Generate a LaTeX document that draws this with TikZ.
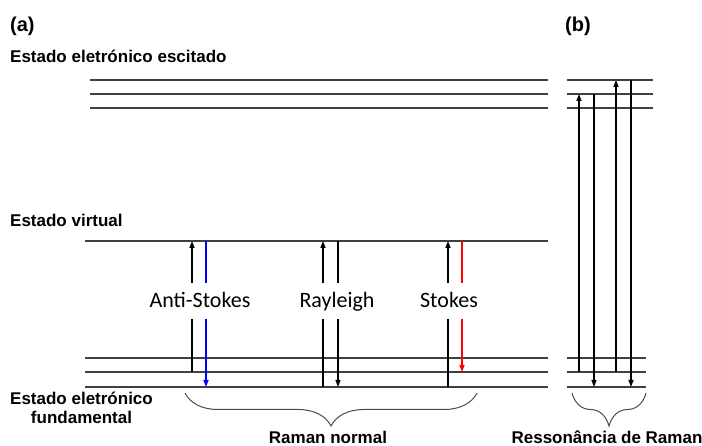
\documentclass[tikz,border=0pt]{standalone}
\usepackage{fontspec}
\setmainfont{Liberation Sans}
\newfontfamily\calibri{Carlito}
\usetikzlibrary{arrows.meta,decorations.pathreplacing}

\begin{document}
\begin{tikzpicture}[x=1pt,y=-1pt,
		level/.style={draw=black!75, line width=1.2pt},
		trans/.style={line width=1.4pt, -{Triangle[length=7pt,width=5pt]}},
		lbl/.style={font=\calibri\fontsize{22}{24}\selectfont, fill=white, inner xsep=1pt, inner ysep=0pt, text height=25pt, text depth=11pt, anchor=base},
		head/.style={font=\bfseries\fontsize{17}{19}\selectfont, inner sep=0pt},
		grp/.style={decorate, decoration={brace,mirror,amplitude=33pt}, draw=black!70, line width=1pt}]
	\useasboundingbox (0,0) rectangle (702,446);

	% excited electronic levels
	\foreach \y in {80,94,108} {
		\draw[level] (90,\y) -- (548,\y);
		\draw[level] (567,\y) -- (653,\y);
	}
	% virtual state
	\draw[level] (85,241) -- (548,241);
	% vibrational levels of the ground state
	\foreach \y in {358,372,387} {
		\draw[level] (85,\y) -- (548,\y);
		\draw[level] (567,\y) -- (646,\y);
	}

	% normal Raman transitions
	\draw[trans] (192,372) -- (192,241);
	\draw[trans, blue] (206,241) -- (206,387);
	\draw[trans] (323,387) -- (323,241);
	\draw[trans] (338,241) -- (338,387);
	\draw[trans] (448,387) -- (448,241);
	\draw[trans, red] (462,241) -- (462,372);

	\node[lbl] (antistokes) at (200,308) {Anti-Stokes};
	\node[lbl] (rayleigh) at (337,308) {Rayleigh};
	\node[lbl] (stokes) at (449,308) {Stokes};

	% resonance Raman transitions
	\draw[trans] (579,372) -- (579,94);
	\draw[trans] (594,94) -- (594,387);
	\draw[trans] (616,372) -- (616,80);
	\draw[trans] (631,80) -- (631,387);

	% braces
	\draw[grp] (185,393) -- (477,393);
	\draw[grp] (572,393) -- (646,393);

	% labels
	\node[head, anchor=west, font=\bfseries\fontsize{20}{22}\selectfont] (parta) at (10,26) {(a)};
	\node[head, anchor=west, font=\bfseries\fontsize{20}{22}\selectfont] (partb) at (565,26) {(b)};
	\node[head, anchor=west] (excitado) at (10,56) {Estado eletrónico escitado};
	\node[head, anchor=west] (virtual) at (10,220) {Estado virtual};
	\node[head, anchor=west, align=center] (fundamental) at (10,408) {Estado eletrónico\\fundamental};
	\node[head] (normal) at (328,437) {Raman normal};
	\node[head] (ressonancia) at (607,437) {Ressonância de Raman};
\end{tikzpicture}
\end{document}
